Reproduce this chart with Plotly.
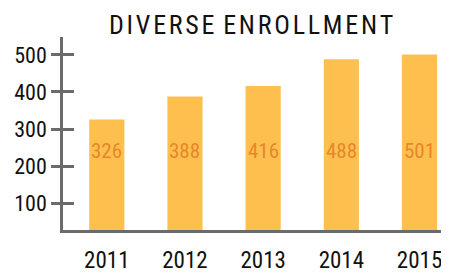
import plotly.graph_objects as go

years = ["2011", "2012", "2013", "2014", "2015"]
enrollment = [326, 388, 416, 488, 501]
y_ticks = [100, 200, 300, 400, 500]
label_level = 241  # value-axis height at which the data labels sit

FONT = "Roboto Condensed, DejaVu Sans Condensed, sans-serif"
BAR = "#FDC04F"
LABEL = "#E8862A"
AXIS = "#6b6b6b"

fig = go.Figure()
fig.add_trace(go.Bar(x=list(range(len(years))), y=enrollment,
                     marker=dict(color=BAR, line=dict(width=0)),
                     width=0.45, hoverinfo="skip"))
fig.add_trace(go.Scatter(x=list(range(len(years))), y=enrollment, yaxis="y2", mode="markers",
                         marker=dict(opacity=0), hoverinfo="skip", showlegend=False))

for i, v in enumerate(enrollment):
    fig.add_annotation(x=i, y=label_level, text=str(v), showarrow=False,
                       font=dict(family=FONT, size=21, color=LABEL), xref="x", yref="y")

title_text = "\u200a".join(list("DIVERSE")) + " \u200a" + "\u200a".join(list("ENROLLMENT"))
fig.add_annotation(text=title_text, xref="paper", yref="paper", x=0.487, y=1.0,
                   yshift=12, showarrow=False, xanchor="center", yanchor="middle",
                   font=dict(family=FONT, size=26, color="#111111"))

rng = [28, 548]
# page body has an 8px default margin, so the figure is sized 8px smaller
fig.update_layout(
    width=441, height=265,
    margin=dict(l=55, r=0, t=29, b=43),
    paper_bgcolor="white", plot_bgcolor="white",
    showlegend=False,
    xaxis=dict(range=[-0.56, 4.377], tickvals=list(range(len(years))), ticktext=years,
               showline=True, linecolor=AXIS, automargin=False, ticklabelstandoff=8,
               linewidth=2.5, ticks="", showgrid=False, zeroline=False,
               tickfont=dict(family=FONT, size=23, color="#111111")),
    yaxis=dict(range=rng, tickvals=y_ticks, showline=True, linecolor=AXIS, linewidth=2.5,
               automargin=False,
               ticks="outside", ticklen=9, tickwidth=2.5, tickcolor=AXIS, showgrid=False,
               zeroline=False, tickfont=dict(family=FONT, size=22, color="#111111")),
    yaxis2=dict(range=rng, tickvals=y_ticks, overlaying="y", side="left", showline=False,
                automargin=False,
                ticks="inside", ticklen=11, tickwidth=2.5, tickcolor=AXIS,
                showticklabels=False, showgrid=False, zeroline=False),
)
fig.write_html("out.html")
